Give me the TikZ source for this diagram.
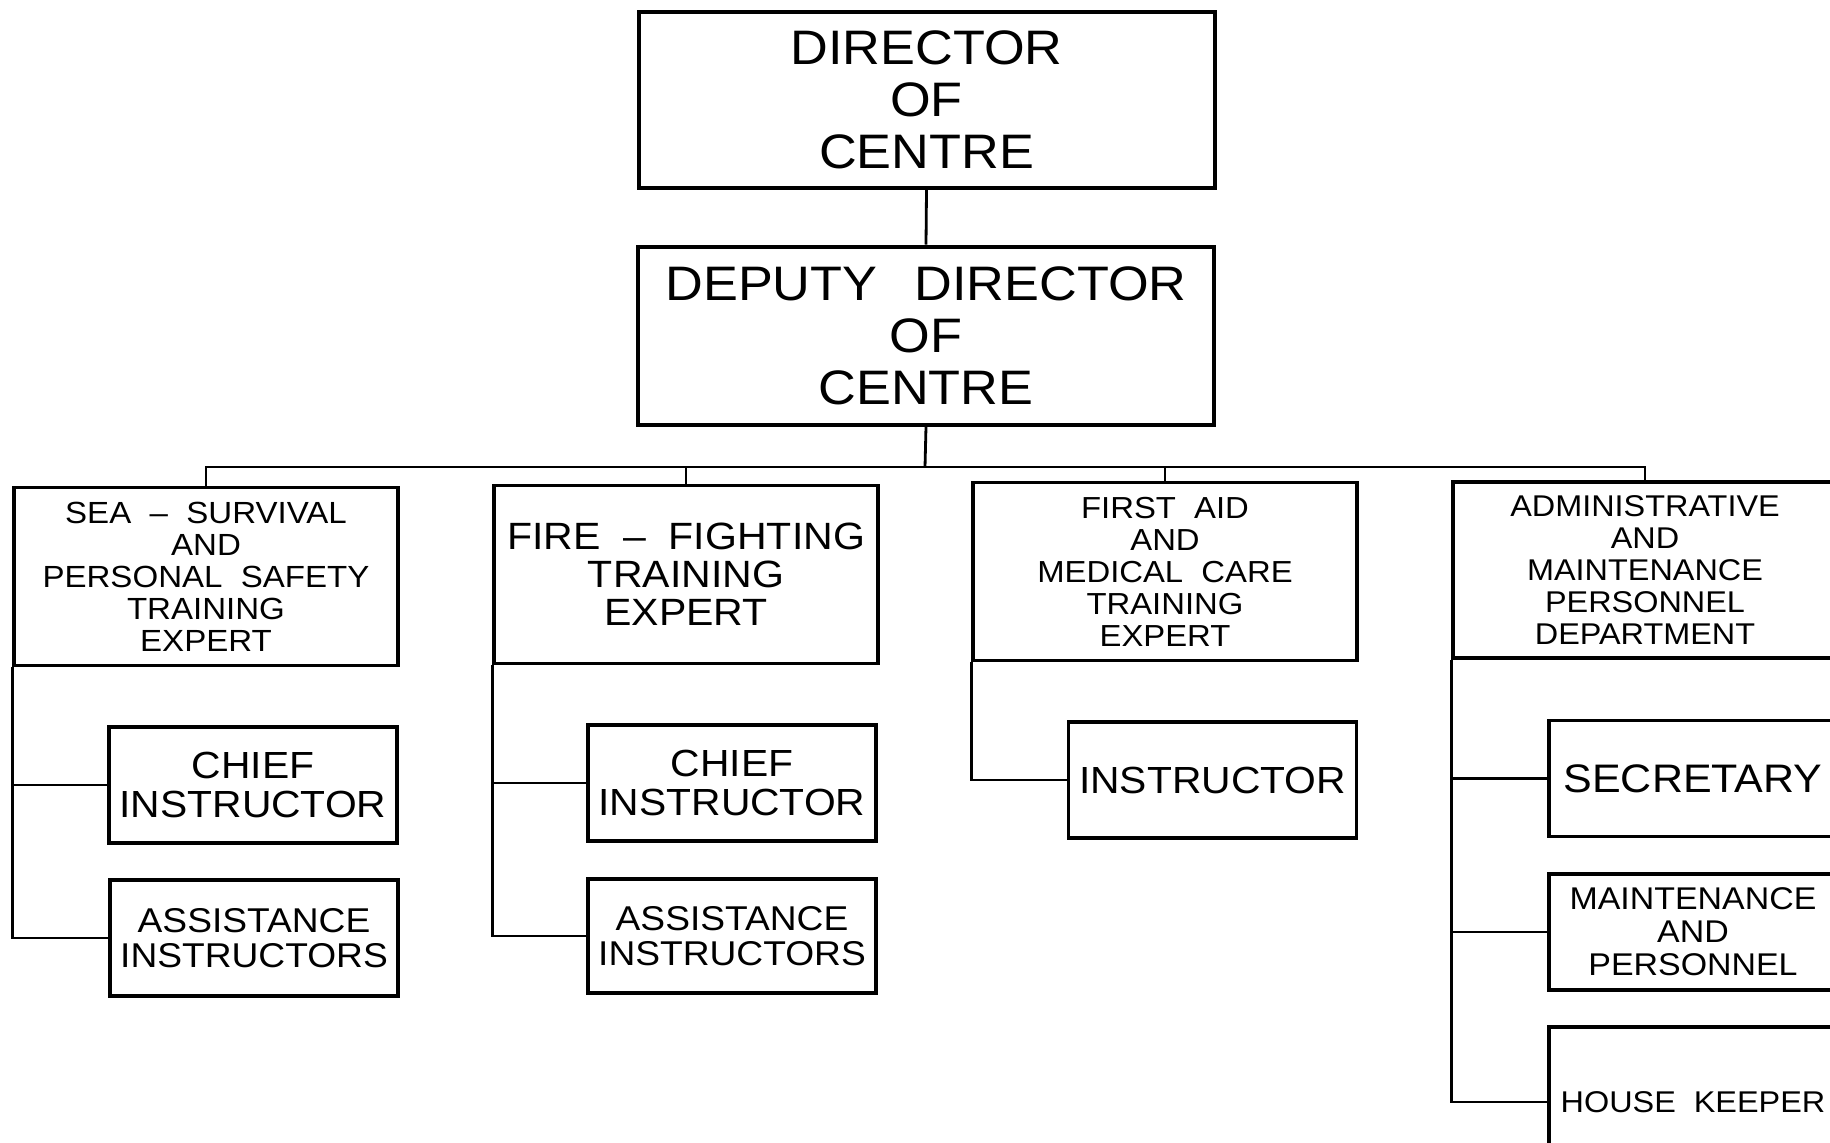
\documentclass[tikz,border=0pt]{standalone}
\usepackage{fontspec}
\setmainfont[FakeStretch=1.08,WordSpace=2]{Liberation Sans}
\begin{document}
\begin{tikzpicture}[x=0.5pt,y=-0.5pt,
  topbox/.style={draw,line width=2pt,minimum width=288pt,minimum height=89pt,inner sep=0pt,align=center,font=\fontsize{24.2}{26}\selectfont},
  headbox/.style={draw,line width=1.6pt,minimum width=192pt,minimum height=89pt,inner sep=0pt,align=center},
  subbox/.style={draw,line width=1.6pt,minimum width=144pt,minimum height=58pt,inner sep=0pt,align=center},
  link/.style={line width=1.4pt}]
\clip (0,0) rectangle (1830,1142);
\fill[white] (0,0) rectangle (1830,1142);
% top
\node[topbox,minimum height=88pt] (dir) at (926.5,100) {DIRECTOR\\OF\\CENTRE};
\node[topbox] (dep) at (926,335.5) {DEPUTY\hspace{4pt} DIRECTOR\\OF\\CENTRE};
% heads
\node[headbox,font=\fontsize{15.3}{16}\selectfont] (sea) at (206,576.5) {SEA – SURVIVAL\\AND\\PERSONAL SAFETY\\TRAINING\\EXPERT};
\node[headbox,font=\fontsize{19}{19}\selectfont] (fire) at (686,574.5) {FIRE – FIGHTING\\TRAINING\\EXPERT};
\node[headbox,font=\fontsize{15.2}{16}\selectfont] (aid) at (1165,571.5) {FIRST AID\\AND\\MEDICAL CARE\\TRAINING\\EXPERT};
\node[headbox,minimum height=88pt,font=\fontsize{15}{16}\selectfont] (adm) at (1645,570) {ADMINISTRATIVE\\AND\\MAINTENANCE\\PERSONNEL\\DEPARTMENT};
% subordinates
\node[subbox,font=\fontsize{18.9}{19.3}\selectfont] (seaC) at (253,785) {CHIEF\\INSTRUCTOR};
\node[subbox,font=\fontsize{17.2}{17.5}\selectfont] (seaA) at (254,938) {ASSISTANCE\\INSTRUCTORS};
\node[subbox,font=\fontsize{18.9}{19.3}\selectfont] (fireC) at (732,783) {CHIEF\\INSTRUCTOR};
\node[subbox,minimum height=57pt,font=\fontsize{17.2}{17.5}\selectfont] (fireA) at (732,936) {ASSISTANCE\\INSTRUCTORS};
\node[subbox,font=\fontsize{18.9}{19.3}\selectfont] (aidI) at (1212.5,780) {INSTRUCTOR};
\node[subbox,font=\fontsize{19.9}{20}\selectfont] (sec) at (1693,778.5) {SECRETARY};
\node[subbox,font=\fontsize{15.7}{16.5}\selectfont] (mnt) at (1693,932) {MAINTENANCE\\AND\\PERSONNEL};
\node[subbox,minimum height=75pt,font=\fontsize{15}{16}\selectfont] (hk) at (1693,1102) {HOUSE KEEPER};
% connectors
\coordinate (bus) at (925,467);
\draw[link] (dir.south) -- (dep.north);
\draw[link] (dep.south) -- (bus);
\draw[link] (sea.north) |- (bus) -| (adm.north);
\draw[link] (fire.north) -- (fire.north |- bus);
\draw[link] (aid.north) -- (aid.north |- bus);
\draw[link] (sea.south west) |- (seaA.west);
\draw[link] (sea.south west |- seaC.west) -- (seaC.west);
\draw[link] (fire.south west) |- (fireA.west);
\draw[link] (fire.south west |- fireC.west) -- (fireC.west);
\draw[link] (aid.south west) |- (aidI.west);
\draw[link] (adm.south west) |- (hk.west);
\draw[link] (adm.south west |- sec.west) -- (sec.west);
\draw[link] (adm.south west |- mnt.west) -- (mnt.west);
\end{tikzpicture}
\end{document}
